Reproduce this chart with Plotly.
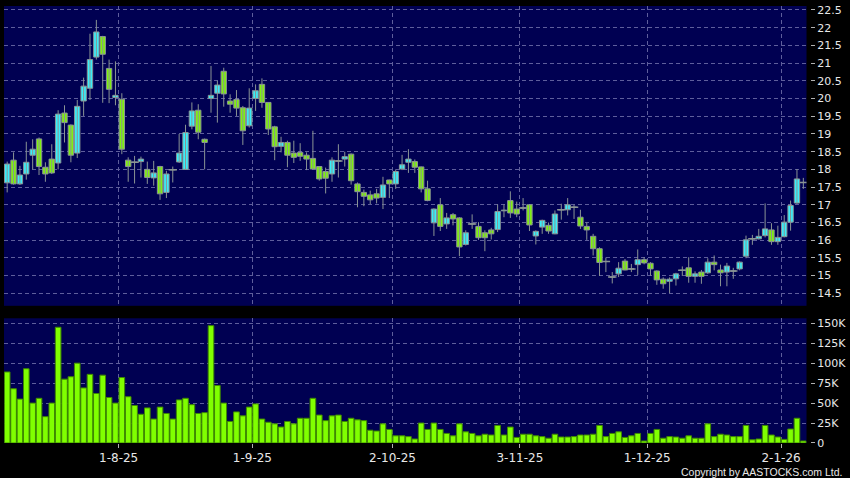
import pandas as pd
import plotly.graph_objects as go

# ---------------- data ----------------
hk_holidays = ["2025-10-01", "2025-10-07", "2025-10-29", "2025-12-25", "2025-12-26", "2026-01-01"]
dates = [d.strftime("%Y-%m-%d") for d in pd.bdate_range("2025-07-08", "2026-01-07")
         if d.strftime("%Y-%m-%d") not in hk_holidays]

open_ = [17.62, 18.26, 17.59, 17.87, 18.40, 18.86, 18.06, 18.29, 18.18, 19.59,
         19.25, 18.46, 19.93, 20.29, 21.17, 21.75, 20.85, 20.03, 19.98, 18.26,
         18.20, 18.22, 18.00, 17.76, 18.08, 17.35, 17.99, 18.21, 18.00, 19.22,
         19.67, 18.85, 20.00, 20.15, 20.77, 19.93, 19.97, 19.74, 19.23, 20.00,
         20.40, 19.89, 19.20, 18.65, 18.76, 18.46, 18.48, 18.40, 18.31, 18.08,
         17.94, 17.87, 18.24, 18.29, 18.43, 17.59, 17.35, 17.28, 17.31, 17.21,
         17.70, 17.59, 18.01, 18.20, 18.22, 18.07, 17.45, 16.49, 17.00, 16.46,
         16.72, 16.63, 15.88, 16.46, 16.39, 16.21, 16.29, 16.30, 16.83, 17.12,
         16.88, 16.91, 17.00, 16.12, 16.37, 16.42, 16.18, 16.86, 16.86, 16.93,
         16.65, 16.39, 16.11, 15.76, 15.40, 14.96, 15.05, 15.41, 15.19, 15.31,
         15.45, 15.35, 15.13, 14.90, 14.84, 14.91, 15.15, 15.22, 14.98, 15.10,
         15.08, 15.38, 15.16, 15.10, 15.13, 15.19, 15.55, 16.04, 16.04, 16.13,
         16.29, 15.96, 16.10, 16.51, 17.05, 17.63]
high = [18.22, 18.48, 18.10, 18.78, 18.85, 18.90, 18.20, 18.71, 19.67, 19.81,
        19.27, 19.96, 20.59, 21.83, 22.22, 21.77, 21.10, 21.05, 20.15, 18.34,
        18.38, 18.36, 18.22, 18.24, 18.10, 17.96, 18.08, 19.00, 19.26, 19.89,
        19.84, 18.87, 20.92, 20.50, 20.87, 20.12, 20.24, 19.79, 20.29, 20.40,
        20.57, 19.90, 19.23, 18.92, 18.81, 18.81, 18.74, 18.48, 19.09, 18.09,
        18.05, 18.34, 18.71, 18.50, 18.45, 17.63, 17.43, 17.40, 17.45, 17.79,
        17.71, 18.00, 18.41, 18.57, 18.28, 18.08, 17.68, 16.90, 17.19, 16.77,
        16.77, 16.65, 16.28, 16.73, 16.51, 16.28, 16.35, 17.01, 17.01, 17.38,
        17.09, 17.19, 17.02, 16.28, 16.58, 16.50, 16.84, 17.03, 17.19, 17.00,
        16.86, 16.50, 16.18, 15.80, 15.51, 15.10, 15.38, 15.47, 15.33, 15.74,
        15.52, 15.38, 15.15, 14.95, 14.95, 15.08, 15.26, 15.52, 15.12, 15.16,
        15.49, 15.57, 15.31, 15.36, 15.22, 15.40, 16.13, 16.15, 16.32, 17.04,
        16.48, 16.41, 16.71, 17.12, 18.01, 17.76]
low = [17.35, 17.57, 17.56, 17.71, 18.00, 17.84, 17.65, 17.87, 18.00, 18.76,
       18.20, 18.32, 19.51, 19.96, 21.10, 19.88, 19.87, 19.81, 18.43, 17.65,
       17.60, 17.77, 17.59, 17.54, 17.14, 17.19, 17.63, 18.18, 17.99, 19.13,
       18.85, 18.00, 19.60, 19.32, 19.77, 19.60, 19.51, 18.69, 19.18, 19.65,
       19.74, 18.97, 18.26, 18.48, 18.06, 18.18, 18.24, 17.98, 18.00, 17.68,
       17.32, 17.65, 17.77, 18.08, 17.57, 16.93, 16.96, 17.02, 17.04, 16.88,
       17.19, 17.45, 17.98, 17.90, 17.90, 17.35, 17.10, 16.12, 16.26, 16.32,
       16.42, 15.55, 15.85, 16.32, 16.01, 15.69, 16.02, 16.23, 16.65, 16.63,
       16.65, 16.84, 16.26, 15.88, 16.18, 16.18, 16.17, 16.58, 16.70, 16.60,
       16.32, 16.01, 15.57, 14.99, 15.10, 14.78, 14.96, 15.15, 15.10, 15.02,
       15.32, 15.00, 14.74, 14.63, 14.51, 14.72, 14.99, 14.80, 14.80, 14.77,
       15.05, 15.15, 14.70, 14.70, 14.91, 15.15, 15.49, 15.87, 16.02, 16.08,
       15.87, 15.87, 16.08, 16.27, 17.03, 17.45]
close = [18.15, 17.59, 17.84, 18.20, 18.57, 18.08, 17.87, 17.90, 19.56, 19.32,
         18.40, 19.78, 20.35, 21.10, 21.88, 21.25, 20.26, 20.09, 18.57, 18.08,
         18.20, 18.29, 17.77, 17.90, 17.31, 17.87, 17.99, 18.46, 19.04, 19.65,
         19.05, 18.76, 20.09, 20.38, 20.13, 19.84, 19.73, 19.09, 19.73, 20.22,
         19.89, 19.14, 18.64, 18.76, 18.40, 18.34, 18.37, 18.29, 18.01, 17.73,
         17.75, 18.26, 18.24, 18.36, 17.68, 17.37, 17.24, 17.14, 17.19, 17.56,
         17.59, 17.94, 18.13, 18.29, 18.06, 17.45, 17.12, 16.88, 16.39, 16.63,
         16.60, 15.81, 16.21, 16.46, 16.07, 16.07, 16.18, 16.81, 16.85, 16.77,
         16.74, 16.91, 16.43, 16.25, 16.56, 16.26, 16.74, 16.86, 17.00, 16.93,
         16.40, 16.29, 15.76, 15.37, 15.40, 14.96, 15.21, 15.16, 15.19, 15.45,
         15.36, 15.19, 14.88, 14.77, 14.90, 15.05, 15.15, 14.98, 15.05, 14.98,
         15.38, 15.31, 15.08, 15.27, 15.13, 15.38, 16.01, 16.04, 16.11, 16.32,
         15.96, 16.08, 16.51, 16.98, 17.73, 17.63]
volume = [89000, 68000, 55000, 93000, 50000, 56000, 33000, 50000, 145000, 80000,
          83000, 100000, 69000, 86000, 62000, 85000, 57000, 50000, 82000, 58000,
          47000, 36000, 44000, 30000, 45000, 37000, 30000, 54000, 56000, 48000,
          37000, 38000, 147000, 72000, 50000, 27000, 39000, 34000, 45000, 49000,
          30000, 26000, 24000, 20000, 27000, 24000, 31000, 31000, 56000, 35000,
          28000, 34000, 35000, 27000, 31000, 29000, 28000, 16000, 15000, 24000,
          17000, 9000, 9000, 8000, 5000, 25000, 17000, 25000, 17000, 12000,
          9000, 24000, 14000, 12000, 9000, 11000, 10000, 22000, 10000, 20000,
          7000, 11000, 11000, 9000, 8000, 6000, 11000, 7500, 7500, 8000,
          10000, 10000, 11000, 22000, 8000, 12000, 14000, 7000, 9000, 12000,
          2500, 12000, 17000, 6000, 8000, 7500, 6000, 9000, 6000, 6000,
          24000, 8000, 11000, 10000, 8000, 8000, 22000, 4000, 5000, 22000,
          10000, 7500, 4500, 17500, 31000, 2500]

tick_dates = ["2025-08-01", "2025-09-01", "2025-10-02", "2025-11-03", "2025-12-01", "2026-01-02"]
tick_labels = ["1-8-25", "1-9-25", "2-10-25", "3-11-25", "1-12-25", "2-1-26"]
vol_tickvals = [0, 25000, 50000, 75000, 100000, 125000, 150000]
vol_ticktext = ["0", "25K", "50K", "75K", "100K", "125K", "150K"]

# ---------------- figure ----------------
n = len(dates)
xs = list(range(n))
grid_pos = [dates.index(d) - 0.5 for d in tick_dates]

NAVY = "#000052"
GRID = "#5e5e9c"
TXT = "#e8e8e8"
UP = "#38EEFA"
DOWN = "#80F010"
EDGE = "#8a9494"
W, H = 850, 478
ML, MR, MT, MB = 4, 36.5, 5, 35
paper_w = W - ML - MR
plot_right = 810
xdom_end = (plot_right - ML) / paper_w
paper_h = H - MT - MB
price_bottom_px = 305.5
vol_top_px = 318

# candle pieces derived from OHLC
wick_x, wick_y = [], []
for i in xs:
    wick_x += [i, i, None]
    wick_y += [low[i], high[i], None]
body_base = [min(o, c) for o, c in zip(open_, close)]
body_len = [abs(c - o) for o, c in zip(open_, close)]
body_col = [UP if c > o else DOWN for o, c in zip(open_, close)]
doji_x = [i for i in xs if open_[i] == close[i]]
doji_y = [close[i] for i in doji_x]

fig = go.Figure()
fig.add_trace(go.Scatter(x=wick_x, y=wick_y, mode="lines", line=dict(color=EDGE, width=1),
                         xaxis="x", yaxis="y", hoverinfo="skip", showlegend=False))
fig.add_trace(go.Bar(x=xs, y=body_len, base=body_base, width=0.84,
                     marker=dict(color=body_col, line=dict(color=EDGE, width=1)),
                     xaxis="x", yaxis="y", hoverinfo="skip", showlegend=False))
fig.add_trace(go.Scatter(x=doji_x, y=doji_y, mode="markers",
                         marker=dict(symbol="line-ew", size=6, line=dict(color=EDGE, width=1.5)),
                         xaxis="x", yaxis="y", hoverinfo="skip", showlegend=False))
fig.add_trace(go.Bar(
    x=xs, y=volume, marker=dict(color="#80FF00", line=dict(color="#3f8a00", width=1)),
    xaxis="x2", yaxis="y2", hoverinfo="skip", showlegend=False,
))

common_x = dict(range=[-0.5, n - 0.5], domain=[0, xdom_end], tickmode="array",
                tickvals=grid_pos, showgrid=True, gridcolor=GRID, griddash="4px,3px",
                gridwidth=1, zeroline=False, showline=False)

fig.update_layout(
    width=W, height=H,
    margin=dict(l=ML, r=MR, t=MT, b=MB),
    paper_bgcolor="#000000", plot_bgcolor=NAVY,
    font=dict(family="DejaVu Sans", color=TXT, size=12),
    bargap=0.12,
    showlegend=False,
    xaxis=dict(**common_x, anchor="y", showticklabels=False, ticks=""),
    xaxis2=dict(**common_x, anchor="y2", matches="x", ticktext=tick_labels,
                showticklabels=True, ticks="outside", ticklen=4, tickcolor="#b0b0b0",
                tickfont=dict(size=12, color=TXT)),
    yaxis=dict(domain=[(H - MB - price_bottom_px) / paper_h, 1],
               range=[22.5 - (price_bottom_px - 9) / 35.5, 22.5 + (9 - MT) / 35.5],
               side="right", anchor="free", position=1, tick0=14.5, dtick=0.5,
               showgrid=True, gridcolor=GRID, griddash="4px,3px", zeroline=False,
               ticks="outside", ticklen=4, tickcolor="#b0b0b0",
               tickfont=dict(size=11, color=TXT), showline=False),
    yaxis2=dict(domain=[0, (H - MB - vol_top_px) / paper_h],
                range=[0, 150000 * (H - MB - vol_top_px) / (443 - 323)],
                side="right", anchor="free", position=1, tickmode="array",
                tickvals=vol_tickvals, ticktext=vol_ticktext,
                showgrid=True, gridcolor=GRID, griddash="4px,3px", zeroline=False,
                ticks="outside", ticklen=4, tickcolor="#b0b0b0",
                tickfont=dict(size=11, color=TXT), showline=False),
    annotations=[dict(text="Copyright by AASTOCKS.com Ltd.", xref="paper", yref="paper",
                      x=(848 - ML) / paper_w, y=(H - MB - 472) / paper_h,
                      xanchor="right", yanchor="middle", showarrow=False,
                      font=dict(family="Liberation Sans, Arial", size=10.5, color=TXT))],
)

fig.write_html("out.html", config={"displayModeBar": False},
               post_script="document.body.style.margin='0';document.body.style.overflow='hidden';"
                           "document.body.style.background='#000';")
